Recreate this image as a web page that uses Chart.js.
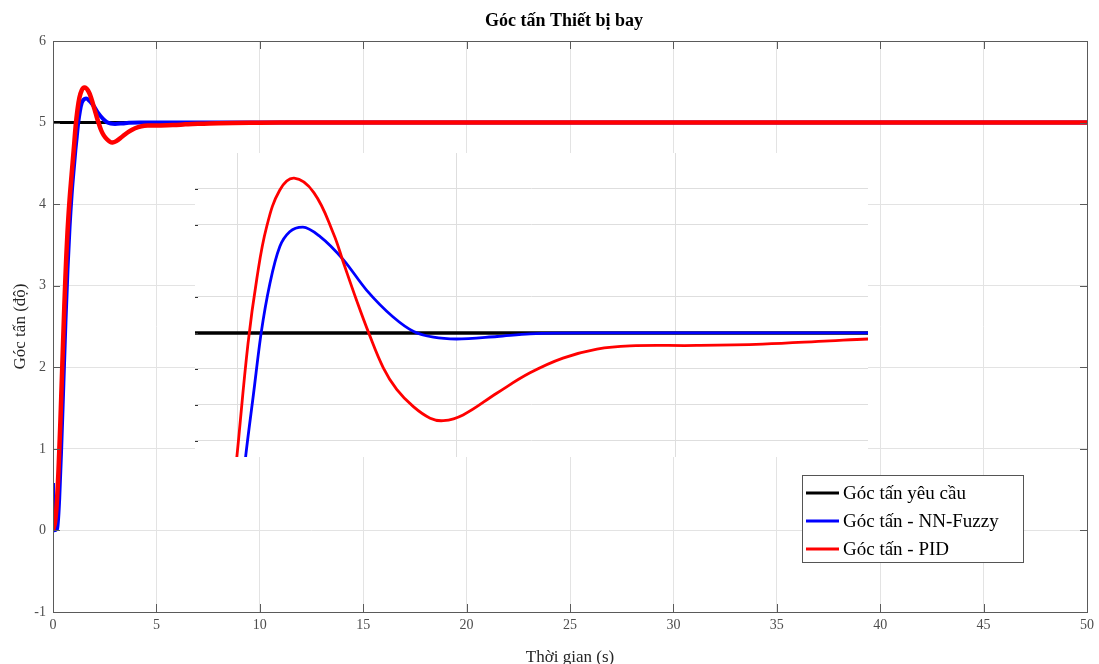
<!DOCTYPE html>
<html><head><meta charset="utf-8">
<script src="https://cdn.jsdelivr.net/npm/chart.js@4.4.1/dist/chart.umd.min.js"></script>
<style>
body{margin:0;background:#fff;}
#wrap{position:relative;width:1099px;height:664px;overflow:hidden;}
#inset{position:absolute;left:195px;top:153px;width:673px;height:304px;background:#fff;}
canvas{display:block;}
</style></head><body>
<div id="wrap">
<canvas id="main" width="1099" height="664"></canvas>
<div id="inset"><canvas id="zoom" width="673" height="304"></canvas></div>
</div>
<script>
// ---- text ----
const chartTitle = "Góc tấn Thiết bị bay";
const xAxisTitle = "Thời gian (s)";
const yAxisTitle = "Góc tấn (độ)";
const seriesLabels = ["Góc tấn yêu cầu", "Góc tấn - NN-Fuzzy", "Góc tấn - PID"];

// ---- data ----
const refTime = [0, 50];
const refValues = [5, 5];

const nnTime = [0, 0.015, 0.2, 0.3, 0.4, 0.5, 0.6, 0.7, 0.8, 0.9, 1.0, 1.08, 1.15, 1.22, 1.30, 1.39, 1.48, 1.60, 1.76, 1.97, 2.18, 2.42, 2.61, 2.79, 3.0, 3.37, 3.67, 4.2, 10, 50];
const nnValues = [0.58, 0, 0.02, 0.4, 1.05, 1.8, 2.55, 3.2, 3.72, 4.12, 4.43, 4.66, 4.83, 5.0, 5.138, 5.24, 5.281, 5.294, 5.267, 5.203, 5.119, 5.045, 5.004, 4.988, 4.983, 4.990, 4.997, 5.0, 5.0, 5.0];

const pidTime = [0, 0.1, 0.2, 0.3, 0.4, 0.5, 0.6, 0.7, 0.8, 0.9, 1.0, 1.1, 1.18, 1.27, 1.39, 1.52, 1.70, 1.88, 1.97, 2.09, 2.20, 2.333, 2.455, 2.607, 2.76, 2.88, 3.06, 3.37, 3.67, 3.97, 4.28, 4.58, 5.19, 5.79, 6.40, 6.75, 8, 10, 12, 50];
const pidValues = [0, 0.1, 0.4, 0.95, 1.65, 2.4, 3.1, 3.65, 4.05, 4.36, 4.66, 4.97, 5.15, 5.295, 5.397, 5.43, 5.39, 5.275, 5.195, 5.09, 5.0, 4.903, 4.843, 4.795, 4.763, 4.756, 4.772, 4.833, 4.889, 4.930, 4.955, 4.964, 4.965, 4.969, 4.978, 4.983, 4.993, 4.998, 5.0, 5.0];

// inset (zoomed view) grid positions
const insetXGrid = [1, 3, 5];
const insetYGrid = [4.7, 4.8, 4.9, 5.0, 5.1, 5.3, 5.4];

const pts = (t, v) => t.map((x, i) => ({x: x, y: v[i]}));

Chart.defaults.font.family = "'Liberation Serif', 'Times New Roman', serif";
Chart.defaults.animation = false;

function datasets(wBlack, wBlue, wRed) {
  return [
    {label: seriesLabels[0], data: pts(refTime, refValues), borderColor: '#000000', borderWidth: wBlack, pointRadius: 0, order: 3},
    {label: seriesLabels[1], data: pts(nnTime, nnValues), borderColor: '#0000ff', borderWidth: wBlue, pointRadius: 0, cubicInterpolationMode: 'monotone', order: 2},
    {label: seriesLabels[2], data: pts(pidTime, pidValues), borderColor: '#ff0000', borderWidth: wRed, pointRadius: 0, tension: 0.4, order: 1}
  ];
}

const framePlugin = {
  id: 'frame',
  afterDatasetsDraw(chart) {
    const {ctx, chartArea: a, scales: {x, y}} = chart;
    ctx.save();
    ctx.strokeStyle = '#5a5a5a';
    ctx.lineWidth = 1;
    ctx.beginPath();
    x.ticks.forEach(t => {
      const px = Math.round(x.getPixelForValue(t.value)) + 0.5;
      ctx.moveTo(px, a.bottom); ctx.lineTo(px, a.bottom - 8);
      ctx.moveTo(px, a.top); ctx.lineTo(px, a.top + 8);
    });
    y.ticks.forEach(t => {
      const py = Math.round(y.getPixelForValue(t.value)) + 0.5;
      ctx.moveTo(a.left, py); ctx.lineTo(a.left + 7, py);
      ctx.moveTo(a.right, py); ctx.lineTo(a.right - 7, py);
    });
    ctx.stroke();
    ctx.strokeRect(Math.round(a.left) + 0.5, Math.round(a.top) + 0.5, Math.round(a.right - a.left), Math.round(a.bottom - a.top));
    ctx.restore();
  },
  afterDraw(chart) {
    const {ctx} = chart;
    ctx.save();
    // title
    ctx.fillStyle = '#000';
    ctx.font = "bold 18px 'Liberation Serif', serif";
    ctx.textAlign = 'center';
    ctx.textBaseline = 'middle';
    ctx.fillText(chartTitle, 564, 21);
    // legend
    const lx = 802, ly = 475, lw = 221, lh = 87;
    ctx.fillStyle = '#fff';
    ctx.fillRect(lx, ly, lw, lh);
    ctx.strokeStyle = '#555';
    ctx.lineWidth = 1;
    ctx.strokeRect(lx + 0.5, ly + 0.5, lw, lh);
    ctx.font = "19px 'Liberation Serif', serif";
    ctx.textAlign = 'left';
    const order = [0, 1, 2];
    order.forEach((di, i) => {
      const ds = chart.data.datasets[di];
      const yy = 493 + i * 28;
      ctx.strokeStyle = ds.borderColor;
      ctx.lineWidth = 3;
      ctx.beginPath(); ctx.moveTo(806, yy); ctx.lineTo(839, yy); ctx.stroke();
      ctx.fillStyle = '#000';
      ctx.fillText(ds.label, 843, yy + 1);
    });
    ctx.restore();
  }
};

new Chart(document.getElementById('main'), {
  type: 'line',
  data: {datasets: datasets(3, 4, 4.5)},
  options: {
    responsive: false,
    layout: {padding: {top: 41, right: 10, left: 0, bottom: 0}},
    plugins: {legend: {display: false}, tooltip: {enabled: false}, title: {display: false}},
    scales: {
      x: {
        type: 'linear', min: 0, max: 50,
        ticks: {stepSize: 5, color: '#4d4d4d', font: {size: 14}, padding: 5, maxRotation: 0},
        grid: {color: '#e3e3e3', drawTicks: false},
        border: {display: false},
        title: {display: true, text: xAxisTitle, color: '#262626', font: {size: 17, lineHeight: 1}, padding: {top: 0, bottom: -2}},
        afterFit: s => { s.height = 52; }
      },
      y: {
        type: 'linear', min: -1, max: 6,
        ticks: {stepSize: 1, color: '#4d4d4d', font: {size: 14}, padding: 7},
        grid: {color: '#e3e3e3', drawTicks: false},
        border: {display: false},
        title: {display: true, text: yAxisTitle, color: '#262626', font: {size: 17, lineHeight: 1}, padding: {top: 12, bottom: 0}},
        afterFit: s => { s.width = 53; }
      }
    }
  },
  plugins: [framePlugin]
});

const insetTicks = {
  id: 'insetTicks',
  afterDraw(chart) {
    const {ctx, chartArea: a, scales: {y}} = chart;
    ctx.save();
    ctx.strokeStyle = '#333';
    ctx.lineWidth = 1;
    ctx.beginPath();
    insetYGrid.forEach(v => {
      const py = Math.round(y.getPixelForValue(v)) + 0.5;
      ctx.moveTo(a.left, py); ctx.lineTo(a.left + 3, py);
    });
    ctx.stroke();
    ctx.restore();
  }
};

new Chart(document.getElementById('zoom'), {
  type: 'line',
  data: {datasets: datasets(3.5, 2.8, 2.8)},
  options: {
    responsive: false,
    layout: {padding: 0},
    plugins: {legend: {display: false}, tooltip: {enabled: false}},
    scales: {
      x: {
        type: 'linear', min: 0.617, max: 6.75,
        ticks: {display: false},
        grid: {color: '#dedede', drawTicks: false},
        border: {display: false},
        afterBuildTicks: s => { s.ticks = insetXGrid.map(v => ({value: v})); },
        afterFit: s => { s.height = 0; }
      },
      y: {
        type: 'linear', min: 4.655, max: 5.5,
        ticks: {display: false},
        grid: {color: '#dedede', drawTicks: false},
        border: {display: false},
        afterBuildTicks: s => { s.ticks = insetYGrid.map(v => ({value: v})); },
        afterFit: s => { s.width = 0; }
      }
    }
  },
  plugins: [insetTicks]
});
</script>
</body></html>
